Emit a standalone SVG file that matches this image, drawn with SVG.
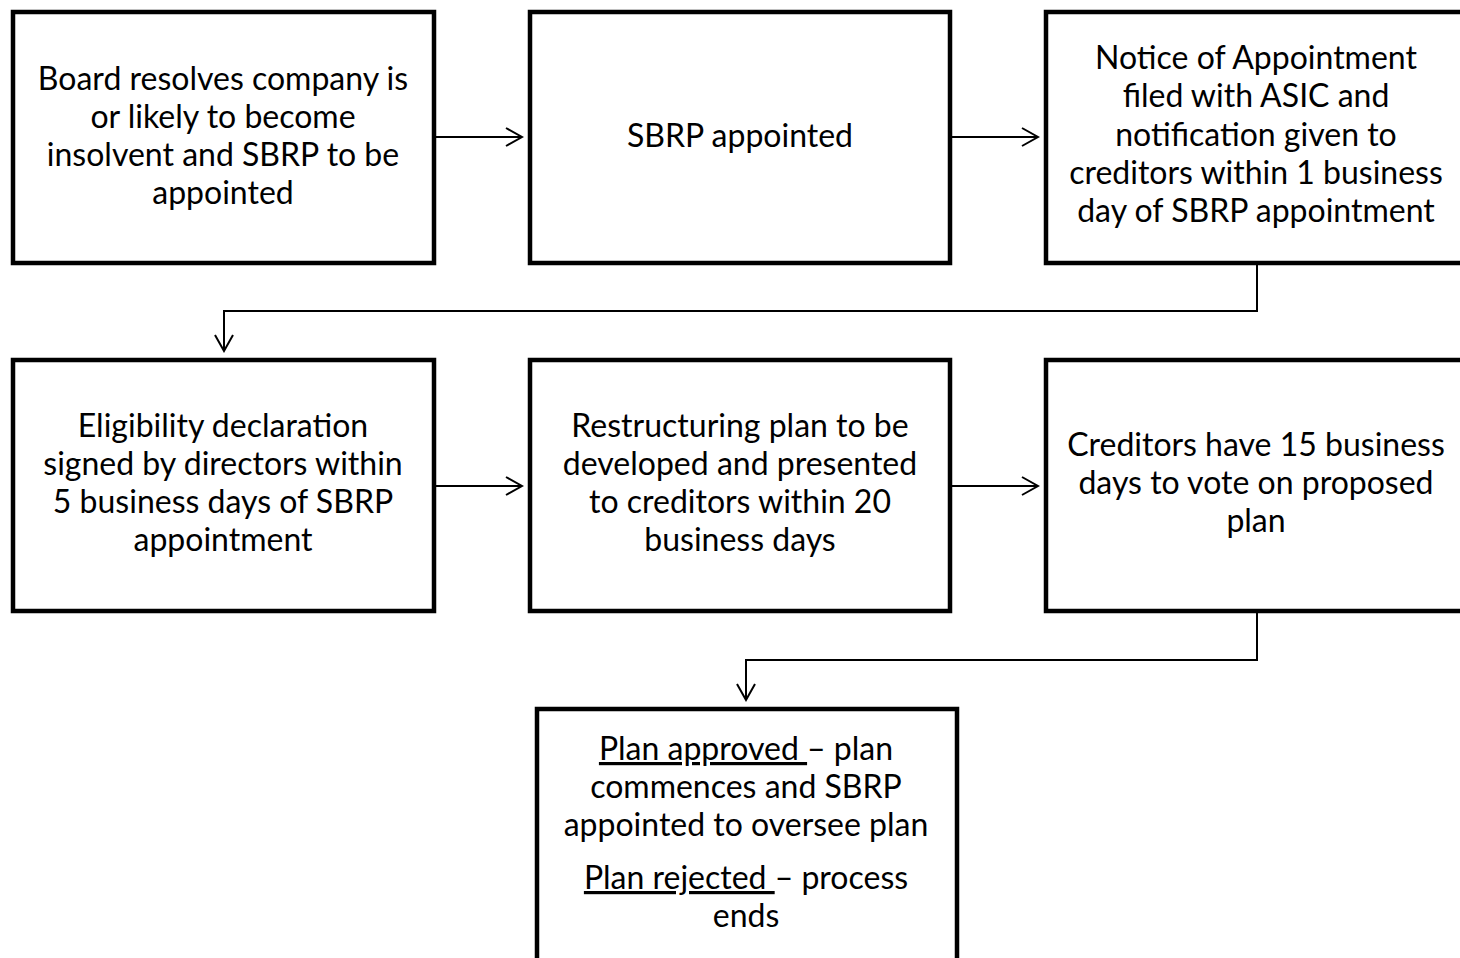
<svg xmlns="http://www.w3.org/2000/svg" width="1460" height="958" viewBox="0 0 1460 958">
<style>
.box{fill:#fff;stroke:#000;stroke-width:4.5}
.t{font-family:Lato,"Liberation Sans",sans-serif;font-size:32px;fill:#000;text-anchor:middle}
.c{fill:none;stroke:#000;stroke-width:2}
</style>
<defs>
<marker id="a" viewBox="0 0 20 20" refX="18" refY="10" markerWidth="20" markerHeight="20" markerUnits="userSpaceOnUse" orient="auto">
<path d="M2,1 L18,10 L2,19" fill="none" stroke="#000" stroke-width="2"/>
</marker>
</defs>
<rect width="1460" height="958" fill="#fff"/>
<g id="connectors">
<path class="c" d="M435,137 H522" marker-end="url(#a)"/>
<path class="c" d="M951,137 H1038" marker-end="url(#a)"/>
<path class="c" d="M1257,265 V311 H224 V351" marker-end="url(#a)"/>
<path class="c" d="M435,486 H522" marker-end="url(#a)"/>
<path class="c" d="M951,486 H1038" marker-end="url(#a)"/>
<path class="c" d="M1257,613 V660 H746 V700" marker-end="url(#a)"/>
</g>
<g id="n1">
<rect class="box" x="13" y="12" width="421" height="251"/>
<text class="t"><tspan x="223" y="90">Board resolves company is</tspan><tspan x="223" y="128">or likely to become</tspan><tspan x="223" y="166">insolvent and SBRP to be</tspan><tspan x="223" y="204">appointed</tspan></text>
</g>
<g id="n2">
<rect class="box" x="530" y="12" width="420" height="251"/>
<text class="t"><tspan x="740" y="147">SBRP appointed</tspan></text>
</g>
<g id="n3">
<rect class="box" x="1046" y="12" width="420" height="251"/>
<text class="t"><tspan x="1256" y="69">Notice of Appointment</tspan><tspan x="1256" y="107">filed with ASIC and</tspan><tspan x="1256" y="146">notification given to</tspan><tspan x="1256" y="184">creditors within 1 business</tspan><tspan x="1256" y="222">day of SBRP appointment</tspan></text>
</g>
<g id="n4">
<rect class="box" x="13" y="360" width="421" height="251"/>
<text class="t"><tspan x="223" y="437">Eligibility declaration</tspan><tspan x="223" y="475">signed by directors within</tspan><tspan x="223" y="513">5 business days of SBRP</tspan><tspan x="223" y="551">appointment</tspan></text>
</g>
<g id="n5">
<rect class="box" x="530" y="360" width="420" height="251"/>
<text class="t"><tspan x="740" y="437">Restructuring plan to be</tspan><tspan x="740" y="475">developed and presented</tspan><tspan x="740" y="513">to creditors within 20</tspan><tspan x="740" y="551">business days</tspan></text>
</g>
<g id="n6">
<rect class="box" x="1046" y="360" width="420" height="251"/>
<text class="t"><tspan x="1256" y="456">Creditors have 15 business</tspan><tspan x="1256" y="494">days to vote on proposed</tspan><tspan x="1256" y="532">plan</tspan></text>
</g>
<g id="n7">
<rect class="box" x="537" y="709" width="420" height="260"/>
<text class="t"><tspan x="746" y="760"><tspan text-decoration="underline">Plan approved </tspan>– plan</tspan><tspan x="746" y="798">commences and SBRP</tspan><tspan x="746" y="836">appointed to oversee plan</tspan><tspan x="746" y="889"><tspan text-decoration="underline">Plan rejected </tspan>– process</tspan><tspan x="746" y="927">ends</tspan></text>
</g>
</svg>
